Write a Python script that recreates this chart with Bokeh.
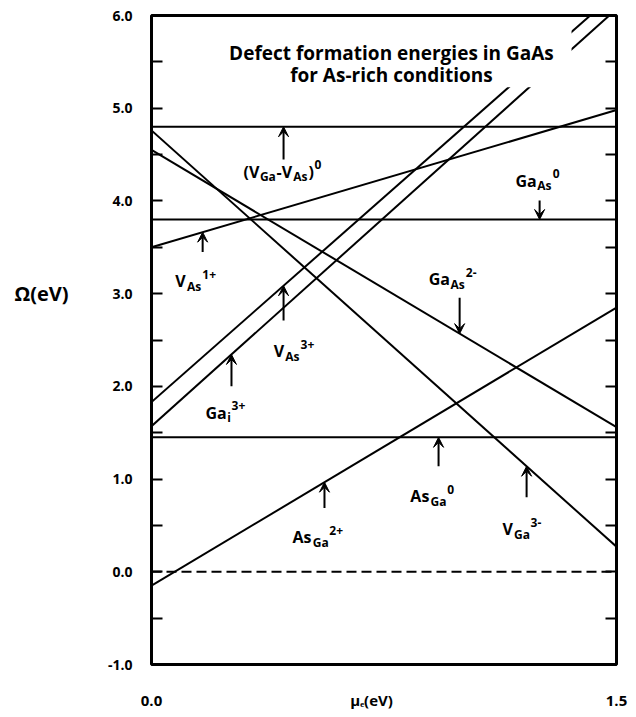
import numpy as np
from bokeh.plotting import figure
from bokeh.models import (Label, Arrow, VeeHead, BoxAnnotation, FixedTicker,
                          LinearAxis, NumeralTickFormatter, CustomJSTickFormatter)
from bokeh.embed import file_html
from bokeh.resources import INLINE

# ---------------- data ----------------
mu_e = [0.0, 1.5]                 # electron chemical potential (eV)
VGa_VAs_0 = [4.80, 4.80]
GaAs_0 = [3.80, 3.80]
AsGa_0 = [1.45, 1.45]
VAs_1p = [3.50, 4.98]
VAs_3p = [1.83, 6.25]
Gai_3p = [1.57, 6.07]
GaAs_2m = [4.55, 1.56]
VGa_3m = [4.76, 0.27]
AsGa_2p = [-0.15, 2.85]
zero_ref = [0.0, 0.0]

y_ticks = [-1.0, 0.0, 1.0, 2.0, 3.0, 4.0, 5.0, 6.0]
y_minor = [-0.5, 0.5, 1.5, 2.5, 3.5, 4.5, 5.5]
x_ticks = [0.0, 1.5]
x_title = "μₑ(eV)"
x_title_pos = 0.71
y_title = "Ω(eV)"
y_title_pos = 3.0
title_lines = ["Defect formation energies in GaAs", "for As-rich conditions"]

FONT = "Open Sans"

p = figure(width=636, height=712, x_range=(0, 1.5), y_range=(-1, 6),
           output_backend="svg", toolbar_location=None,
           min_border_left=151, min_border_right=20, min_border_top=15,
           min_border_bottom=45, x_axis_location=None, y_axis_location=None)
p.grid.visible = False
p.outline_line_color = "black"
p.outline_line_width = 3
p.background_fill_color = "white"
p.border_fill_color = "white"

# ---------------- axes ----------------
yt = FixedTicker(ticks=y_ticks, minor_ticks=y_minor)
left = LinearAxis(ticker=yt, formatter=NumeralTickFormatter(format="0.0"))
right = LinearAxis(ticker=yt, formatter=CustomJSTickFormatter(code="return ''"))
for ax in (left, right):
    ax.axis_line_color = None
    ax.major_tick_in = 11
    ax.major_tick_out = 0
    ax.minor_tick_in = 11
    ax.minor_tick_out = 0
    ax.major_tick_line_width = 2
    ax.minor_tick_line_width = 2
    ax.major_tick_line_color = "black"
    ax.minor_tick_line_color = "black"
left.major_label_standoff = 19
left.major_label_text_font = FONT
left.major_label_text_font_style = "bold"
left.major_label_text_font_size = "14px"
left.major_label_text_color = "black"
right.major_label_text_color = None
right.major_label_standoff = 0

# outer left axis carrying the y title at the 3.0 level
ytitle_ax = LinearAxis(ticker=FixedTicker(ticks=[y_title_pos], minor_ticks=[]),
                       formatter=CustomJSTickFormatter(args=dict(t=y_title),
                                                       code="return t"))
ytitle_ax.axis_line_color = None
ytitle_ax.major_tick_line_color = None
ytitle_ax.minor_tick_line_color = None
ytitle_ax.major_tick_out = 0
ytitle_ax.major_tick_in = 0
ytitle_ax.major_label_standoff = 36
ytitle_ax.major_label_text_font = FONT
ytitle_ax.major_label_text_font_style = "bold"
ytitle_ax.major_label_text_font_size = "20px"
ytitle_ax.major_label_text_color = "black"

# bottom axis: 0.0, title, 1.5
bottom = LinearAxis(
    ticker=FixedTicker(ticks=[x_ticks[0], x_title_pos, x_ticks[1]], minor_ticks=[]),
    formatter=CustomJSTickFormatter(args=dict(t=x_title, ends=x_ticks),
                                    code="return ends.includes(tick) ? tick.toFixed(1) : t"))
bottom.axis_line_color = None
bottom.major_tick_line_color = None
bottom.major_tick_in = 0
bottom.major_tick_out = 0
bottom.minor_tick_in = 0
bottom.minor_tick_out = 0
bottom.major_label_standoff = 25
bottom.major_label_text_font = FONT
bottom.major_label_text_font_style = "bold"
bottom.major_label_text_font_size = "15px"
bottom.major_label_text_color = "black"

p.add_layout(left, "left")
p.add_layout(ytitle_ax, "left")
p.add_layout(right, "right")
p.add_layout(bottom, "below")

# ---------------- lines ----------------
for ys in (VGa_VAs_0, GaAs_0, AsGa_0, VAs_1p, VAs_3p, Gai_3p, GaAs_2m, VGa_3m, AsGa_2p):
    p.line(mu_e, ys, line_color="black", line_width=2)
p.line(mu_e, zero_ref, line_color="black", line_width=2, line_dash="10 5")

# white background behind the title text
p.add_layout(BoxAnnotation(left=0.2, right=1.355, bottom=5.227, top=5.975,
                           fill_color="white", fill_alpha=1.0, line_color=None,
                           level="annotation"))

for txt, yy in zip(title_lines, (5.592, 5.356)):
    p.add_layout(Label(x=0.774, y=yy, text=txt, text_font=FONT,
                       text_font_style="bold", text_font_size="19px",
                       text_align="center", text_baseline="middle",
                       text_color="black"))

# ---------------- labels with sub/superscripts ----------------
W = {'(': 0.30, ')': 0.30, '-': 0.32, '+': 0.57, 'A': 0.72, 'G': 0.72,
     'V': 0.66, 'a': 0.58, 's': 0.48, 'i': 0.28, 'e': 0.57, ' ': 0.26}


def tw(s, size):
    return sum(W.get(c, 0.57) for c in s) * size


def rich(x, y, parts, main=16, small=12):
    off = 0.0
    for txt, kind in parts:
        size = main if kind == "n" else small
        dy = {"n": 0, "b": -5, "p": 7}[kind]
        p.add_layout(Label(x=x, y=y, x_offset=off, y_offset=dy, text=txt,
                           text_font=FONT, text_font_style="bold",
                           text_font_size=f"{size}px", text_align="left",
                           text_baseline="middle", text_color="black"))
        off += tw(txt, size) + 1.0


rich(0.297, 4.314, [("(V", "n"), ("Ga", "b"), ("-V", "n"), ("As", "b"), (")", "n"), ("0", "p")])
rich(1.174, 4.218, [("Ga", "n"), ("As", "b"), ("0", "p")])
rich(0.894, 3.155, [("Ga", "n"), ("As", "b"), ("2-", "p")])
rich(0.077, 3.133, [("V", "n"), ("As", "b"), ("1+", "p")])
rich(0.394, 2.381, [("V", "n"), ("As", "b"), ("3+", "p")])
rich(0.174, 1.716, [("Ga", "n"), ("i", "b"), ("3+", "p")])
rich(0.455, 0.373, [("As", "n"), ("Ga", "b"), ("2+", "p")])
rich(0.835, 0.814, [("As", "n"), ("Ga", "b"), ("0", "p")])
rich(1.132, 0.459, [("V", "n"), ("Ga", "b"), ("3-", "p")])

# ---------------- arrows pointing at the curves ----------------
PX = 7.0 / 652.0  # data units per vertical pixel
arrows = [  # (x, series, length_px, direction)
    (0.426, VGa_VAs_0, 33, "up"),
    (1.252, GaAs_0, 19, "down"),
    (0.994, GaAs_2m, 36, "down"),
    (0.165, VAs_1p, 20, "up"),
    (0.426, VAs_3p, 35, "up"),
    (0.258, Gai_3p, 32, "up"),
    (0.558, AsGa_2p, 26, "up"),
    (0.926, AsGa_0, 29, "up"),
    (1.210, VGa_3m, 31, "up"),
]
for x, ys, L, d in arrows:
    tip = float(np.interp(x, mu_e, ys))
    tail = tip - L * PX if d == "up" else tip + L * PX
    p.add_layout(Arrow(x_start=x, y_start=tail, x_end=x, y_end=tip,
                       line_color="black", line_width=2,
                       end=VeeHead(size=10, fill_color="black", line_color="black",
                                   line_width=1)))

open("out.html", "w").write(file_html(p, INLINE))
